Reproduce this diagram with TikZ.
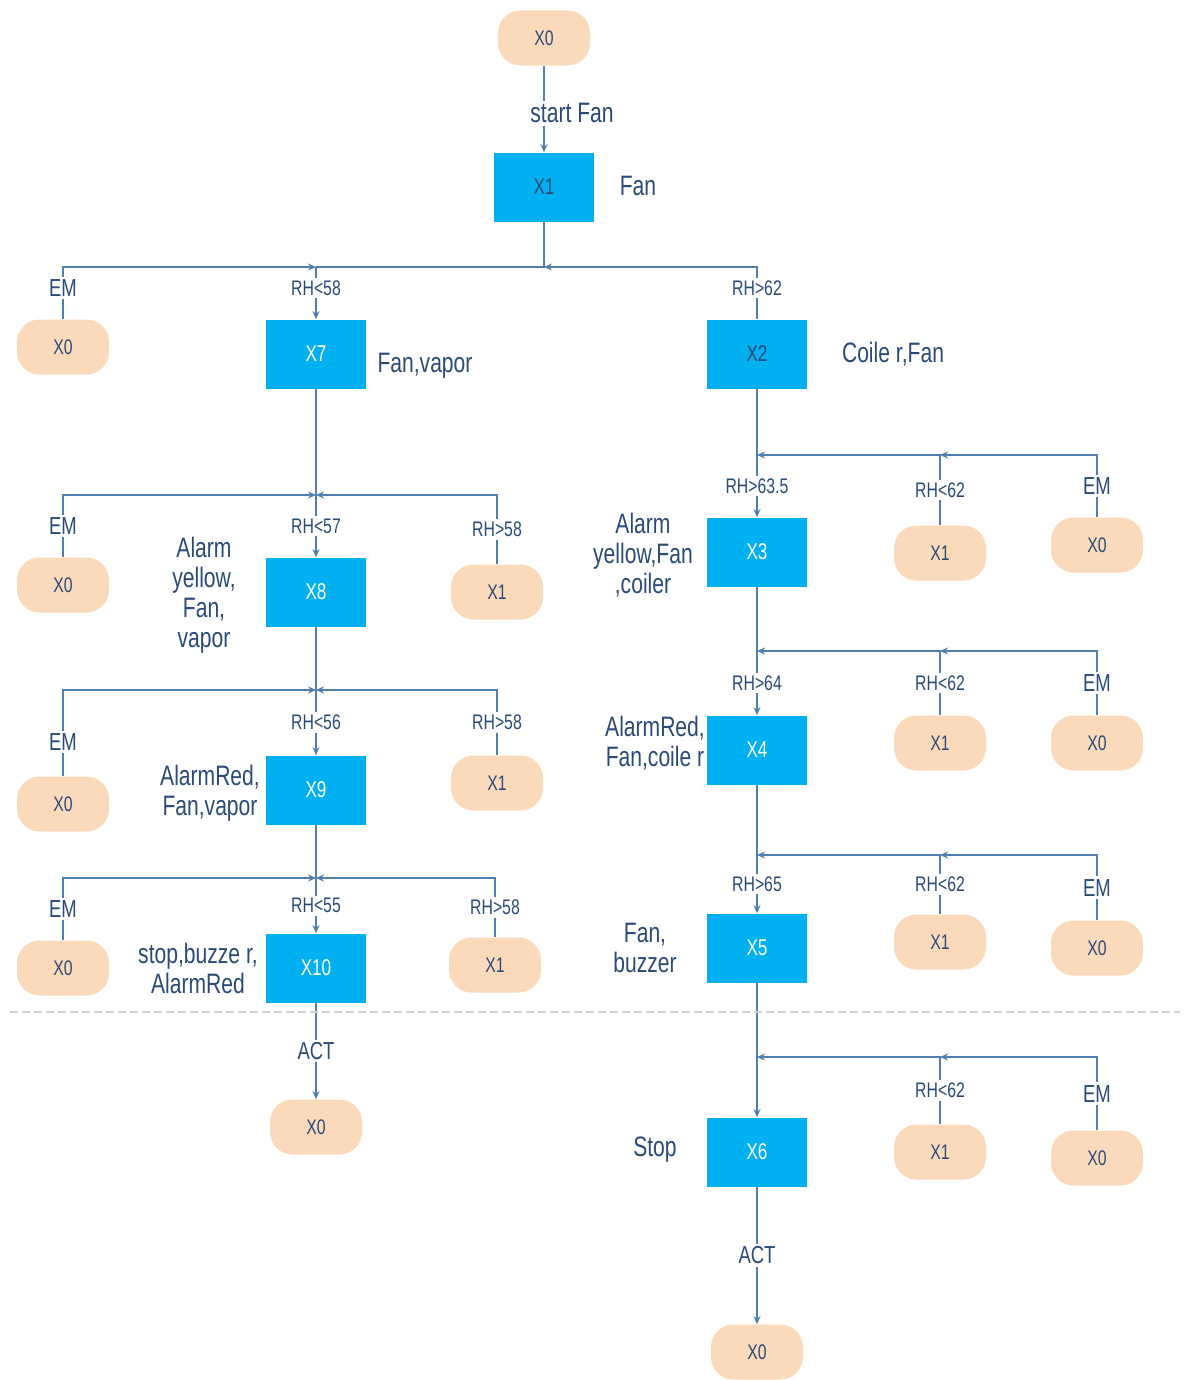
\documentclass[tikz,border=0pt]{standalone}
\usepackage{fontspec}
\setmainfont{Liberation Sans}[FakeStretch=0.75]
\usetikzlibrary{arrows.meta}
\definecolor{boxblue}{HTML}{00B0F0}
\definecolor{peach}{HTML}{FBD9BB}
\definecolor{linkblue}{HTML}{4F7FAE}
\definecolor{ink}{HTML}{2A4A78}
\tikzset{
  state/.style={fill=boxblue, minimum width=20mm, minimum height=13.8mm, text=white,
    font=\fontsize{13}{13}\selectfont},
  pill/.style={fill=peach, rounded corners=4.5mm, minimum width=18.4mm, minimum height=11mm,
    text=ink, font=\fontsize{12}{12}\selectfont},
  side/.style={text=ink, align=center, font=\fontsize{16}{17}\selectfont},
  cond/.style={fill=white, text=ink, inner sep=1.5pt, font=\fontsize{12}{12}\selectfont},
  big/.style={cond, font=\fontsize{14}{14}\selectfont},
  link/.style={draw=linkblue, line width=1pt},
  >={Stealth[length=1.6mm,width=1.4mm]}
}
\begin{document}
\begin{tikzpicture}[x=0.2mm,y=-0.2mm]
\useasboundingbox (0,0) rectangle (1186,1380);

% top
\node[pill] (s0) at (544,38) {X0};
\node[state,text=ink] (s1) at (544,187) {X1};
\node[side] (a1) at (638,186) {Fan};
\draw[link,->] (s0) -- node[cond,font=\fontsize{16}{16}\selectfont,xshift=5.6mm,pos=.55] {start Fan} (s1);

% first split
\node[pill] (e0) at (63,347) {X0};
\node[state] (s7) at (316,354) {X7};
\node[side] (a7) at (425,366) {Fan,vapor};
\node[state,text=ink] (s2) at (757,354) {X2};
\node[side] (a2) at (893,354) {Coile r,Fan};
\coordinate (jt) at (544,267);
\coordinate (jl) at (316,267);
\draw[link] (s1) -- (jt) -- (jl);
\draw[link,->] (jl) -- node[cond,pos=.4] {RH<58} (s7);
\draw[link,->] (e0.north) |- node[big,pos=.3] {EM} (jl);
\draw[link,->] (s2.north) |- node[cond,pos=.3] {RH>62} (jt);

% left branch
\node[pill] (e8) at (63,585) {X0};
\node[state] (s8) at (316,592) {X8};
\node[pill] (b8) at (497,592) {X1};
\node[side] (a8) at (204,595) {Alarm\\yellow,\\Fan,\\vapor};
\coordinate (j8) at (316,495);
\draw[link] (s7) -- (j8);
\draw[link,->] (j8) -- node[cond] {RH<57} (s8);
\draw[link,->] (e8.north) |- node[big,pos=.25] {EM} (j8);
\draw[link,->] (b8.north) |- node[cond,pos=.25] {RH>58} (j8);

\node[pill] (e9) at (63,804) {X0};
\node[state] (s9) at (316,790) {X9};
\node[pill] (b9) at (497,783) {X1};
\node[side] (a9) at (210,793) {AlarmRed,\\Fan,vapor};
\coordinate (j9) at (316,690);
\draw[link] (s8) -- (j9);
\draw[link,->] (j9) -- node[cond] {RH<56} (s9);
\draw[link,->] (e9.north) |- node[big,pos=.2] {EM} (j9);
\draw[link,->] (b9.north) |- node[cond,pos=.25] {RH>58} (j9);

\node[pill] (e10) at (63,968) {X0};
\node[state] (s10) at (316,968) {X10};
\node[pill] (b10) at (495,965) {X1};
\node[side] (a10) at (198,968) {stop,buzze r,\\AlarmRed};
\coordinate (j10) at (316,878);
\draw[link] (s9) -- (j10);
\draw[link,->] (j10) -- node[cond] {RH<55} (s10);
\draw[link,->] (e10.north) |- node[big,pos=.25] {EM} (j10);
\draw[link,->] (b10.north) |- node[cond,pos=.25] {RH>58} (j10);

\node[pill] (f10) at (316,1127) {X0};
\draw[link,->] (s10) -- node[big] {ACT} (f10);

% right branch
\node[state] (s3) at (757,552) {X3};
\node[pill] (b3) at (940,553) {X1};
\node[pill] (e3) at (1097,545) {X0};
\node[side] (a3) at (643,555) {Alarm\\yellow,Fan\\,coiler};
\coordinate (j3) at (757,455);
\coordinate (k3) at (940,455);
\draw[link] (s2) -- (j3);
\draw[link,->] (j3) -- node[cond] {RH>63.5} (s3);
\draw[link,->] (b3.north) |- node[cond,pos=.25] {RH<62} (j3);
\draw[link,->] (e3.north) |- node[big,pos=.25] {EM} (k3);

\node[state] (s4) at (757,750) {X4};
\node[pill] (b4) at (940,743) {X1};
\node[pill] (e4) at (1097,743) {X0};
\node[side] (a4) at (655,743) {AlarmRed,\\Fan,coile r};
\coordinate (j4) at (757,651);
\coordinate (k4) at (940,651);
\draw[link] (s3) -- (j4);
\draw[link,->] (j4) -- node[cond] {RH>64} (s4);
\draw[link,->] (b4.north) |- node[cond,pos=.25] {RH<62} (j4);
\draw[link,->] (e4.north) |- node[big,pos=.25] {EM} (k4);

\node[state] (s5) at (757,948) {X5};
\node[pill] (b5) at (940,942) {X1};
\node[pill] (e5) at (1097,948) {X0};
\node[side] (a5) at (645,948) {Fan,\\buzzer};
\coordinate (j5) at (757,855);
\coordinate (k5) at (940,855);
\draw[link] (s4) -- (j5);
\draw[link,->] (j5) -- node[cond] {RH>65} (s5);
\draw[link,->] (b5.north) |- node[cond,pos=.25] {RH<62} (j5);
\draw[link,->] (e5.north) |- node[big,pos=.25] {EM} (k5);

\node[state] (s6) at (757,1152) {X6};
\node[pill] (b6) at (940,1152) {X1};
\node[pill] (e6) at (1097,1158) {X0};
\node[side] (a6) at (655,1150) {Stop};
\coordinate (j6) at (757,1057);
\coordinate (k6) at (940,1057);
\draw[link] (s5) -- (j6);
\draw[link,->] (j6) -- (s6);
\draw[link,->] (b6.north) |- node[cond,pos=.25] {RH<62} (j6);
\draw[link,->] (e6.north) |- node[big,pos=.25] {EM} (k6);

\node[pill] (f6) at (757,1352) {X0};
\draw[link,->] (s6) -- node[big] {ACT} (f6);

% divider
\draw[gray!35, line width=0.8pt, dash pattern=on 1.6mm off 0.8mm] (10,1012) -- (1180,1012);
\end{tikzpicture}
\end{document}
